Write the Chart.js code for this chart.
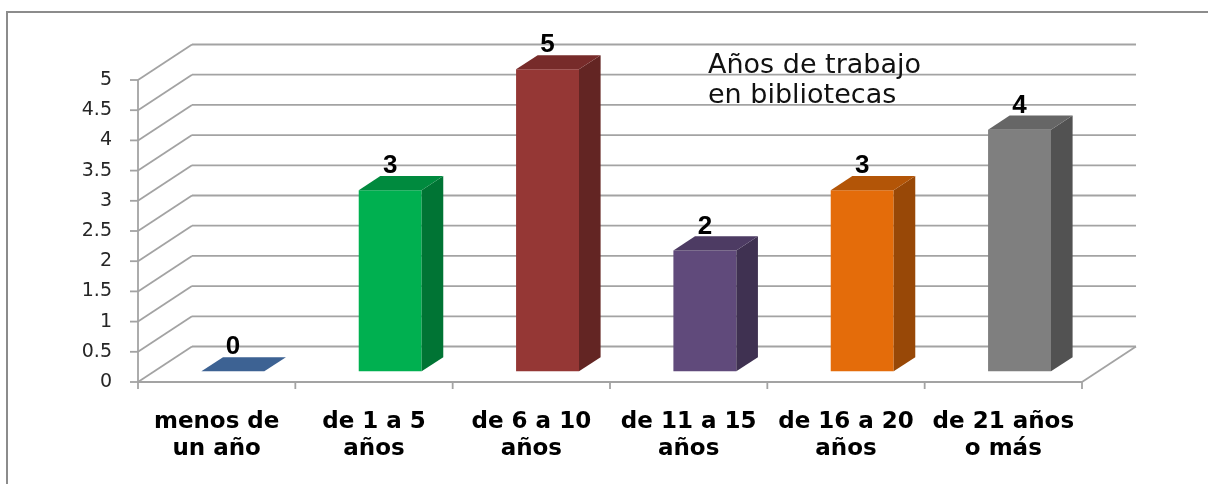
<!DOCTYPE html>
<html>
<head>
<meta charset="utf-8">
<title>Años de trabajo en bibliotecas</title>
<script src="https://cdn.jsdelivr.net/npm/chart.js@4.4.1/dist/chart.umd.min.js"></script>
<style>
  html, body { margin: 0; padding: 0; background: #fff; overflow: hidden; }
  canvas { display: block; }
</style>
</head>
<body>
<canvas id="chart" width="1208" height="484"></canvas>
<script>
'use strict';

// ── DATA ──────────────────────────────────────────────────────────
const categories = [
  ['menos de', 'un año'],
  ['de 1 a 5', 'años'],
  ['de 6 a 10', 'años'],
  ['de 11 a 15', 'años'],
  ['de 16 a 20', 'años'],
  ['de 21 años', 'o más']
];
const values = [0, 3, 5, 2, 3, 4];
const titleLines = ['Años de trabajo', 'en bibliotecas'];

// front / top / side shades per bar
const frontColors = ['#4A72A6', '#00B050', '#953735', '#604A7B', '#E46C0A', '#7F7F7F'];
const topColors   = ['#3D6293', '#008A3E', '#772B2A', '#4D3B63', '#B35507', '#666666'];
const sideColors  = ['#2F4D75', '#007434', '#632523', '#3F3151', '#984807', '#525252'];

// ── 3D GEOMETRY ───────────────────────────────────────────────────
const WALL_DX = 54;      // depth of the floor / back wall
const WALL_DY = -35.5;
const BAR_FRONT = 0.3;   // bar front face, as fraction of depth
const BAR_DEPTH = 0.4;
const GRID_COLOR = '#a3a3a3';

function line(ctx, x1, y1, x2, y2) {
  ctx.beginPath();
  ctx.moveTo(x1, y1);
  ctx.lineTo(x2, y2);
  ctx.stroke();
}

function poly(ctx, pts, fill) {
  ctx.beginPath();
  ctx.moveTo(pts[0][0], pts[0][1]);
  for (let i = 1; i < pts.length; i++) ctx.lineTo(pts[i][0], pts[i][1]);
  ctx.closePath();
  ctx.fillStyle = fill;
  ctx.fill();
}

const box3d = {
  id: 'box3d',
  beforeDatasetsDraw(chart) {
    const { ctx, chartArea: a, scales: { x, y } } = chart;
    ctx.save();
    ctx.strokeStyle = GRID_COLOR;
    ctx.lineWidth = 1.8;

    // back wall grid + left wall diagonals + y tick marks
    y.ticks.forEach(t => {
      const py = y.getPixelForValue(t.value);
      line(ctx, a.left + WALL_DX, py + WALL_DY, a.right + WALL_DX, py + WALL_DY);
      line(ctx, a.left, py, a.left + WALL_DX, py + WALL_DY);
      line(ctx, a.left - 8, py, a.left, py);
    });

    // floor edges
    line(ctx, a.left, a.bottom, a.right, a.bottom);
    line(ctx, a.right, a.bottom, a.right + WALL_DX, a.bottom + WALL_DY);

    // y axis line
    line(ctx, a.left, a.top, a.left, a.bottom + 7);

    // category tick marks
    const n = categories.length;
    for (let i = 1; i <= n; i++) {
      const px = x.left + i * x.width / n;
      line(ctx, px, a.bottom, px, a.bottom + 7);
    }
    ctx.restore();
  },
  beforeDatasetDraw() {
    return false; // bars are drawn as boxes below
  },
  afterDatasetsDraw(chart) {
    const { ctx } = chart;
    const meta = chart.getDatasetMeta(0);
    const fx = BAR_FRONT * WALL_DX, fy = BAR_FRONT * WALL_DY;
    const dx = BAR_DEPTH * WALL_DX, dy = BAR_DEPTH * WALL_DY;
    ctx.save();
    meta.data.forEach((bar, i) => {
      const x0 = bar.x - bar.width / 2 + fx;
      const x1 = x0 + bar.width;
      const yt = bar.y + fy;
      const yb = bar.base + fy;
      if (yb - yt > 0.5) {
        poly(ctx, [[x0, yt], [x1, yt], [x1, yb], [x0, yb]], frontColors[i]);
        poly(ctx, [[x1, yt], [x1 + dx, yt + dy], [x1 + dx, yb + dy], [x1, yb]], sideColors[i]);
      }
      poly(ctx, [[x0, yt], [x0 + dx, yt + dy], [x1 + dx, yt + dy], [x1, yt]], topColors[i]);

      // value label
      ctx.fillStyle = '#000';
      ctx.font = 'bold 26px "Liberation Sans", Arial, sans-serif';
      ctx.textAlign = 'center';
      ctx.textBaseline = 'alphabetic';
      ctx.fillText(String(values[i]), (x0 + x1) / 2, yt - 17);
    });
    ctx.restore();
  },
  afterDraw(chart) {
    const { ctx } = chart;
    ctx.save();
    // outer frame (only top and left edges are in view)
    ctx.strokeStyle = '#8c8c8c';
    ctx.lineWidth = 2;
    ctx.beginPath();
    ctx.moveTo(7, 490);
    ctx.lineTo(7, 12);
    ctx.lineTo(1215, 12);
    ctx.stroke();

    // title inside the plot
    ctx.fillStyle = '#111';
    ctx.font = '27px "DejaVu Sans", sans-serif';
    ctx.textAlign = 'left';
    ctx.textBaseline = 'alphabetic';
    ctx.fillText(titleLines[0], 708, 72.5);
    ctx.fillText(titleLines[1], 708, 102.5);
    ctx.restore();
  }
};

// ── CHART ─────────────────────────────────────────────────────────
new Chart(document.getElementById('chart').getContext('2d'), {
  type: 'bar',
  data: {
    labels: categories,
    datasets: [{
      data: values,
      backgroundColor: frontColors,
      categoryPercentage: 1,
      barPercentage: 0.4
    }]
  },
  options: {
    responsive: false,
    animation: false,
    events: [],
    layout: { padding: { left: 0, top: 80, right: 126, bottom: 0 } },
    plugins: {
      legend: { display: false },
      title: { display: false },
      tooltip: { enabled: false }
    },
    scales: {
      x: {
        type: 'category',
        offset: true,
        border: { display: false },
        grid: { display: false, drawTicks: false },
        ticks: {
          color: '#000',
          padding: 26,
          maxRotation: 0,
          autoSkip: false,
          font: { family: '"DejaVu Sans", sans-serif', size: 23, weight: 'bold', lineHeight: 1.2 }
        },
        afterFit(scale) { scale.height = 102; }
      },
      y: {
        min: 0,
        max: 5,
        border: { display: false },
        grid: { display: false, drawTicks: false },
        ticks: {
          stepSize: 0.5,
          color: '#262626',
          padding: 26,
          font: { family: '"DejaVu Sans", sans-serif', size: 19 },
          callback: v => String(Math.round(v * 10) / 10)
        },
        afterFit(scale) { scale.width = 138; }
      }
    }
  },
  plugins: [box3d]
});
</script>
</body>
</html>
